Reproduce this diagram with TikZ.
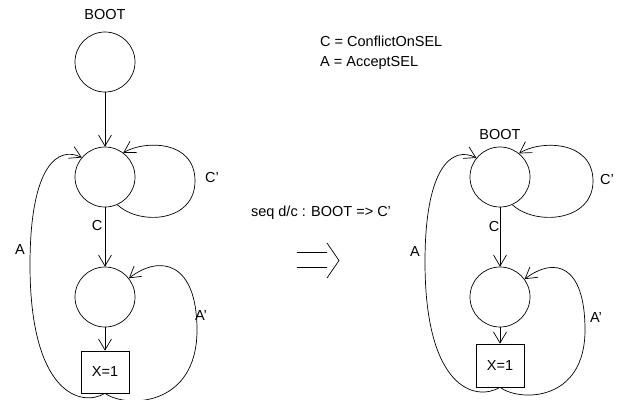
\documentclass[tikz,border=0pt]{standalone}
\usepackage{fontspec}
\setmainfont{Liberation Sans}
\usetikzlibrary{arrows.meta}

\begin{document}
\begin{tikzpicture}[x=1pt,y=-1pt,
    state/.style={circle,draw,line width=0.7pt,minimum size=60pt,inner sep=0pt},%
    action/.style={rectangle,draw,line width=0.7pt,minimum width=48pt,minimum height=42pt,inner sep=0pt},%
    trans/.style={line width=0.7pt,-{Straight Barb[length=11pt,width=13pt]}},%
    lbl/.style={inner sep=0pt}]
            \useasboundingbox (0,0) rectangle (618,399);%
            {\fontsize{14.5}{17}\selectfont

            % Marking states of the left machine
            \node [state] (bootA) at (105,62) {};%
            \node [lbl] (bootlblA) at (105,15) {BOOT};%
            \node [state] (confA) at (105,177) {};%
            \node [state] (accA) at (105,297) {};%
            \node [action] (setA) at (105,372) {X=1};%

            % Drawing transitions of the left machine
            \draw [trans] (bootA) -- (confA);%
            \draw [trans] (confA) -- (accA);%
            \draw [trans] (accA) -- (setA);%
            \draw [trans] (confA.-66) .. controls (140,226) and (195,222) .. (195,181)
                .. controls (195,140) and (145,140) .. (confA.53);%
            \draw [trans] (setA.south) .. controls (80,408) and (30,392) .. (30,265)
                .. controls (30,165) and (58,146) .. (confA.140);%
            \draw [trans] (setA.south) .. controls (125,408) and (197,408) .. (197,330)
                .. controls (197,262) and (160,254) .. (accA.38);%

            % Labels of the left machine
            \node [lbl] (cA) at (97,226) {C};%
            \node [lbl] (aA) at (20,250) {A};%
            \node [lbl] (cpA) at (212,178) {C'};%
            \node [lbl] (apA) at (201,316) {A'};%

            % Legend and rewrite rule
            \node [lbl,anchor=west] (legC) at (320,41) {C = ConflictOnSEL};%
            \node [lbl,anchor=west] (legA) at (320,63) {A = AcceptSEL};%
            \node [lbl] (rule) at (321,213) {seq d/c : BOOT => C'};%
            \draw [line width=0.7pt] (297,252) -- (327,252);%
            \draw [line width=0.7pt] (297,267) -- (327,267);%
            \draw [line width=0.7pt] (327,243) -- (339,260.5) -- (327,278);%

            % Marking states of the right machine
            \node [state] (confB) at (500,177) {};%
            \node [lbl] (bootlblB) at (500,135) {BOOT};%
            \node [state] (accB) at (500,297) {};%
            \node [action,minimum height=43pt] (setB) at (500,365.5) {X=1};%

            % Drawing transitions of the right machine
            \draw [trans] (confB) -- (accB);%
            \draw [trans] (accB) -- (setB);%
            \draw [trans] (confB.-66) .. controls (535,226) and (593,222) .. (593,181)
                .. controls (593,140) and (540,140) .. (confB.51);%
            \draw [trans] (setB.south) .. controls (475,402) and (425,388) .. (425,262)
                .. controls (425,165) and (453,146) .. (confB.141);%
            \draw [trans] (setB.south) .. controls (520,402) and (585,402) .. (585,330)
                .. controls (585,265) and (555,256) .. (accB.36);%

            % Labels of the right machine
            \node [lbl] (cB) at (494,227) {C};%
            \node [lbl] (aB) at (415,252) {A};%
            \node [lbl] (cpB) at (607,180) {C'};%
            \node [lbl] (apB) at (596,318) {A'};%
            }
\end{tikzpicture}
\end{document}
